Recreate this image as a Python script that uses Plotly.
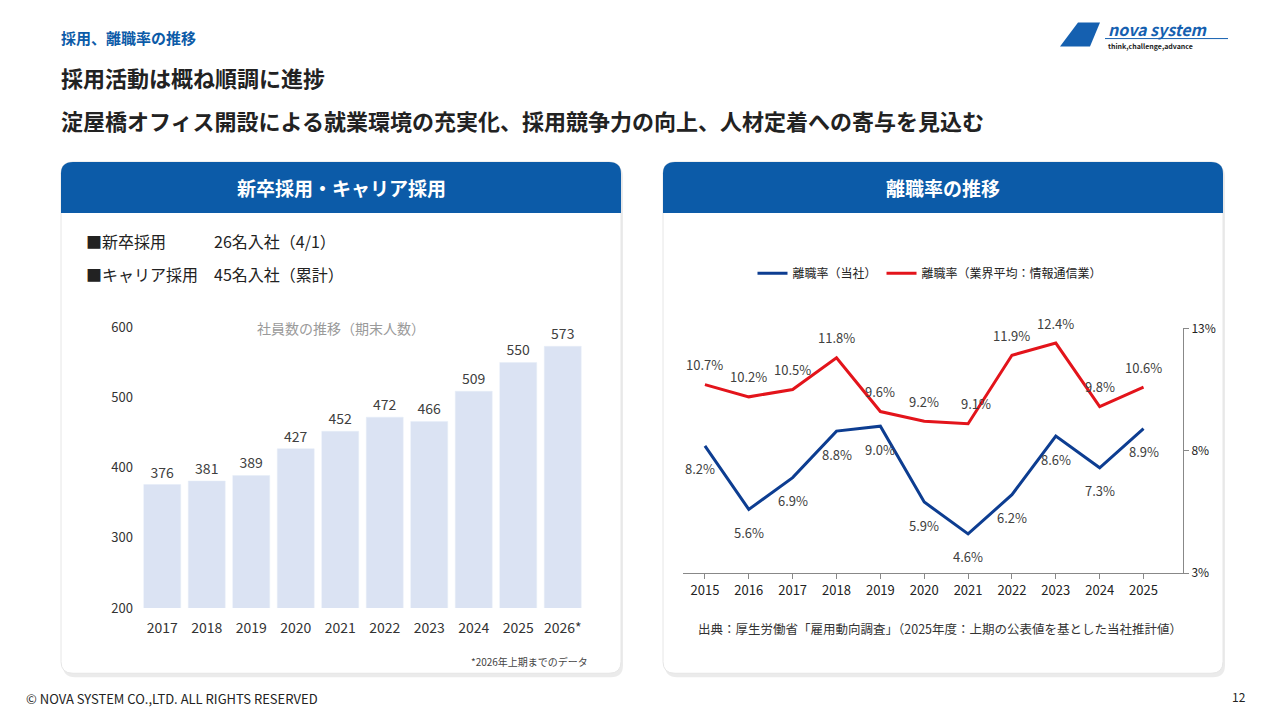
import plotly.graph_objects as go

bar_years = ["2017","2018","2019","2020","2021","2022","2023","2024","2025","2026*"]
employees = [376,381,389,427,452,472,466,509,550,573]
rate_years = ["2015","2016","2017","2018","2019","2020","2021","2022","2023","2024","2025"]
rate_company = [8.2,5.6,6.9,8.8,9.0,5.9,4.6,6.2,8.6,7.3,8.9]
rate_industry = [10.7,10.2,10.5,11.8,9.6,9.2,9.1,11.9,12.4,9.8,10.6]

F = "Noto Sans CJK JP"
BLUE = "#0c5ba8"
W, H = 1280, 720
def px(x): return x / W
def py(y): return 1 - ((y - 10.5) / 0.971) / H

fig = go.Figure()
fig.add_trace(go.Bar(x=bar_years, y=employees, marker_color="#dbe3f3", text=employees,
                     textposition="outside", textfont=dict(size=14, color="#404040", family=F),
                     cliponaxis=False, showlegend=False, xaxis="x", yaxis="y", hoverinfo="skip"))
fig.add_trace(go.Scatter(x=rate_years, y=rate_company, mode="lines", name="離職率（当社）",
                         line=dict(color="#0d3d91", width=3), xaxis="x2", yaxis="y2"))
fig.add_trace(go.Scatter(x=rate_years, y=rate_industry, mode="lines", name="離職率（業界平均：情報通信業）",
                         line=dict(color="#e3141b", width=3), xaxis="x2", yaxis="y2"))

shapes = []
def rrect(x0, y0, x1, y1, r, fill, line="rgba(0,0,0,0)", top_only=False):
    X0, X1 = px(x0), px(x1)
    Y0, Y1 = py(y0), py(y1)
    rx, ry = r / W, r / H
    if top_only:
        path = (f"M {X0},{Y1} L {X0},{Y0-ry} Q {X0},{Y0} {X0+rx},{Y0} L {X1-rx},{Y0} "
                f"Q {X1},{Y0} {X1},{Y0-ry} L {X1},{Y1} Z")
    else:
        path = (f"M {X0+rx},{Y0} L {X1-rx},{Y0} Q {X1},{Y0} {X1},{Y0-ry} L {X1},{Y1+ry} "
                f"Q {X1},{Y1} {X1-rx},{Y1} L {X0+rx},{Y1} Q {X0},{Y1} {X0},{Y1+ry} L {X0},{Y0-ry} "
                f"Q {X0},{Y0} {X0+rx},{Y0} Z")
    return dict(type="path", path=path, xref="paper", yref="paper", fillcolor=fill,
                line=dict(color=line, width=1), layer="below")

for x0 in (61, 663):
    shapes.append(rrect(x0 + 2, 165, x0 + 562, 676, 12, "rgba(0,0,0,0.08)"))
    shapes.append(rrect(x0, 162, x0 + 560, 672, 12, "white", line="#e6e6e6"))
    shapes.append(rrect(x0, 162, x0 + 560, 213, 12, BLUE, top_only=True))
shapes.append(dict(type="path", xref="paper", yref="paper", fillcolor="#1560b0", line=dict(width=0),
                   path=f"M {px(1060)},{py(47)} L {px(1078)},{py(23)} L {px(1100)},{py(23)} L {px(1090)},{py(47)} Z"))
shapes.append(dict(type="line", xref="paper", yref="paper", x0=px(1105), x1=px(1228), y0=py(39), y1=py(39),
                   line=dict(color="#1560b0", width=1)))

ann = []
def T(x, y, s, size, color="#222", bold=False, xa="left", **kw):
    ann.append(dict(x=px(x), y=py(y), xref="paper", yref="paper", text=(f"<b>{s}</b>" if bold else s),
                    showarrow=False, xanchor=xa, yanchor="middle",
                    font=dict(size=size, color=color, family=F), **kw))
T(59, 38, "採用、離職率の推移", 15, BLUE, True)
T(59, 77, "採用活動は概ね順調に進捗", 22, "#222", True)
T(59, 120, "淀屋橋オフィス開設による就業環境の充実化、採用競争力の向上、人材定着への寄与を見込む", 22, "#222", True)
T(341, 188, "新卒採用・キャリア採用", 19, "white", True, "center")
T(943, 188, "離職率の推移", 19, "white", True, "center")
T(84, 241, "■新卒採用　　　26名入社（4/1）", 16, "#222")
T(84, 274, "■キャリア採用　45名入社（累計）", 16, "#222")
T(341, 328, "社員数の推移（期末人数）", 14, "#9a9a9a", False, "center")
T(590, 660, "*2026年上期までのデータ", 10, "#444", False, "right")
T(696, 627, "出典：厚生労働省「雇用動向調査」（2025年度：上期の公表値を基とした当社推計値）", 12.5, "#333")
T(24, 697, "© NOVA SYSTEM CO.,LTD. ALL RIGHTS RESERVED", 13, "#222")
T(1248, 695, "12", 12, "#222", False, "right")
T(1106, 29, "<i>nova system</i>", 16, "#1560b0", True)
T(1106, 46, "think,challenge,advance", 7, "#222", True)

red_dx = [0, 0, 0, 0, 0, 0, 8, 0, 0, 0, 0]
for i, yr in enumerate(rate_years):
    ann.append(dict(x=i, y=rate_company[i], xref="x2", yref="y2", text=f"{rate_company[i]}%",
                    showarrow=False, yshift=-23, xshift=(-5 if i == 0 else 0),
                    font=dict(size=13, color="#404040", family=F)))
    ann.append(dict(x=i, y=rate_industry[i], xref="x2", yref="y2", text=f"{rate_industry[i]}%",
                    showarrow=False, yshift=20, xshift=red_dx[i],
                    font=dict(size=13, color="#404040", family=F)))

fig.update_layout(
    autosize=True, margin=dict(l=0, r=0, t=0, b=0),
    paper_bgcolor="white", plot_bgcolor="rgba(0,0,0,0)",
    font=dict(family=F),
    shapes=shapes, annotations=ann, bargap=0.17,
    xaxis=dict(domain=[px(140), px(585)], anchor="y", showgrid=False, showline=False, ticks="",
               ticklabelstandoff=10, tickfont=dict(size=14, color="#333"), fixedrange=True),
    yaxis=dict(domain=[py(607), py(327)], anchor="x", range=[200, 600], dtick=100, showgrid=False,
               showline=False, tickfont=dict(size=13, color="#333"), zeroline=False, ticklabelstandoff=6),
    xaxis2=dict(domain=[px(683), px(1183)], anchor="y2", type="category", range=[-0.5, 10.9], showgrid=False,
                showline=True, linecolor="#888", ticks="outside", tickcolor="#888", ticklen=5,
                tickfont=dict(size=13, color="#222")),
    yaxis2=dict(domain=[py(572), py(328)], anchor="x2", range=[3, 13], side="right",
                tickvals=[3, 8, 13], ticktext=["3%", "8%", "13%"], showgrid=False, showline=True,
                linecolor="#888", ticks="outside", tickcolor="#888", ticklen=5,
                tickfont=dict(size=12, color="#222"), zeroline=False),
    legend=dict(orientation="h", x=px(930), xanchor="center", y=py(273), yanchor="middle",
                font=dict(size=12, color="#222", family=F), bgcolor="rgba(0,0,0,0)"),
)
fig.write_html("out.html", default_width="100vw", default_height="100vh",
               config={"displayModeBar": False},
               post_script="document.body.style.margin='0';document.body.style.overflow='hidden';")
